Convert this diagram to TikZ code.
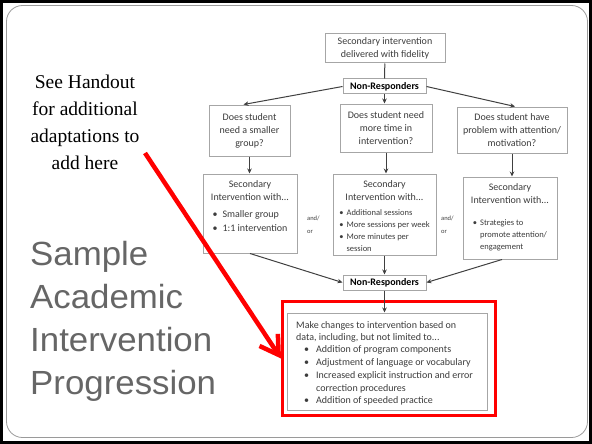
\documentclass[tikz,border=0pt]{standalone}
\usepackage{fontspec}
\setmainfont{Carlito}
\newfontfamily\handfont{Liberation Serif}
\newfontfamily\titlefont[FakeStretch=1.04]{Liberation Sans}
\usetikzlibrary{arrows.meta,calc}
\definecolor{boxgray}{HTML}{A6A6A6}
\definecolor{ink}{HTML}{3C3C3C}
\definecolor{arrowgray}{HTML}{404040}
\definecolor{titlegray}{HTML}{666666}
\definecolor{alert}{HTML}{FF0000}
\definecolor{framegray}{HTML}{9A9A9A}
\begin{document}
\begin{tikzpicture}[x=1pt,y=-1pt,
  box/.style={draw=boxgray,line width=1pt,fill=white,inner sep=0pt},
  txt/.style={text=ink,align=center,inner sep=0pt,font=\fontsize{10}{13}\selectfont},
  small/.style={text=ink,align=center,inner sep=0pt,font=\fontsize{8.5}{12}\selectfont},
  nr/.style={box,minimum width=83pt,minimum height=15pt,text=black,font=\bfseries\fontsize{10}{12}\selectfont},
  link/.style={draw=arrowgray,line width=1pt},
  flow/.style={link,-{Stealth[length=5pt,width=4.5pt]}},
]
\useasboundingbox (0,0) rectangle (592,444);
% slide frame
\draw[line width=3pt] (1.5,1.5) rectangle (590.5,442.5);
\draw[framegray,line width=0.8pt,rounded corners=16pt] (6.5,5.5) rectangle (587.5,437.5);

% side notes
\node[anchor=north,align=center,inner sep=0pt,font=\handfont\fontsize{19.5}{27}\selectfont] (note) at (85,74.5)
  {See Handout\\for additional\\adaptations to\\add here};
\node[anchor=north west,align=left,inner sep=0pt,text=titlegray,font=\titlefont\fontsize{33.5}{43}\selectfont] (title) at (30,241.5)
  {Sample\\Academic\\Intervention\\Progression};

% flow chart
\node[box,txt,minimum width=120pt,minimum height=29pt] (top) at (385,48.5) {Secondary intervention\\delivered with fidelity};
\node[nr] (nr1) at (384.5,86.5) {Non-Responders};

\node[box,txt,minimum width=81pt,minimum height=51pt] (q1) at (249.5,130.5) {Does student\\need a smaller\\group?};
\node[box,txt,minimum width=92pt,minimum height=48pt] (q2) at (386,128) {Does student need\\more time in\\intervention?};
\node[box,txt,minimum width=110pt,minimum height=46pt] (q3) at (512,130) {Does student have\\problem with attention/\\motivation?};

\node[box,minimum width=94pt,minimum height=79pt] (i1) at (250,213.5) {};
\node[box,minimum width=103pt,minimum height=81pt] (i2) at (384.5,214.5) {};
\node[box,minimum width=94pt,minimum height=82pt] (i3) at (510,218) {};

\node[txt,anchor=north] (i1t) at (250,180) {Secondary\\Intervention with...\\[7pt]
  \begin{tabular}{@{}l@{\hspace{5pt}}l@{}}•&Smaller group\\[1pt] •&1:1 intervention\end{tabular}};
\node[txt,anchor=north] (i2t) at (384.5,180) {Secondary\\Intervention with...\\[6pt]
  {\fontsize{8.5}{12}\selectfont\begin{tabular}{@{}l@{\hspace{3pt}}l@{}}•&Additional sessions\\ •&More sessions per week\\ •&More minutes per\\ &session\end{tabular}}};
\node[txt,anchor=north] (i3t) at (510,183) {Secondary\\Intervention with...\\[13pt]
  {\fontsize{8.5}{12}\selectfont\begin{tabular}{@{}l@{\hspace{3pt}}l@{}}•&Strategies to\\ &promote attention/\\ &engagement\end{tabular}}};

\node[small,anchor=west,align=left,font=\fontsize{6.5}{13}\selectfont] (andor1) at (307,225) {and/\\or};
\node[small,anchor=west,align=left,font=\fontsize{6.5}{13}\selectfont] (andor2) at (441,225) {and/\\or};

\node[nr] (nr2) at (384.5,282.5) {Non-Responders};

\node[draw=alert,line width=3pt,minimum width=213pt,minimum height=114pt,inner sep=0pt] (focus) at (389,358.5) {};
\node[box,minimum width=200pt,minimum height=97pt] (final) at (387,361.5) {};
\node[txt,anchor=north west,align=left,font=\fontsize{10}{12.8}\selectfont] (finalt) at (296,321)
  {Make changes to intervention based on\\data, including, but not limited to...\\
  \hspace*{8pt}\begin{tabular}{@{}l@{\hspace{7pt}}l@{}}•&Addition of program components\\ •&Adjustment of language or vocabulary\\ •&Increased explicit instruction and error\\ &correction procedures\\ •&Addition of speeded practice\end{tabular}};

% connectors
\draw[link] (top) -- (nr1);
\draw[flow] (nr1.west) -- ([xshift=-6pt]q1.north);
\draw[flow] (nr1.south) -- (nr1.south |- q2.north);
\draw[flow] (nr1.east) -- ([xshift=3pt]q3.north);
\draw[flow] (q1.south) -- (q1.south |- i1.north);
\draw[flow] (q2.south) -- (q2.south |- i2.north);
\draw[flow] (q3.south) -- (q3.south |- i3.north);
\draw[flow] (i1.south) -- (nr2.west);
\draw[flow] (i2.south) -- (i2.south |- nr2.north);
\draw[flow] ([xshift=-8pt]i3.south) -- (nr2.east);
\draw[flow] (nr2.south) -- (nr2.south |- final.north);

% pointer from the note to the highlighted box
\coordinate (tail) at (145,153);
\draw[alert,line width=4.5pt,-{Straight Barb[length=18pt,width=22pt]}] (tail) -- (focus.west);
\end{tikzpicture}
\end{document}
